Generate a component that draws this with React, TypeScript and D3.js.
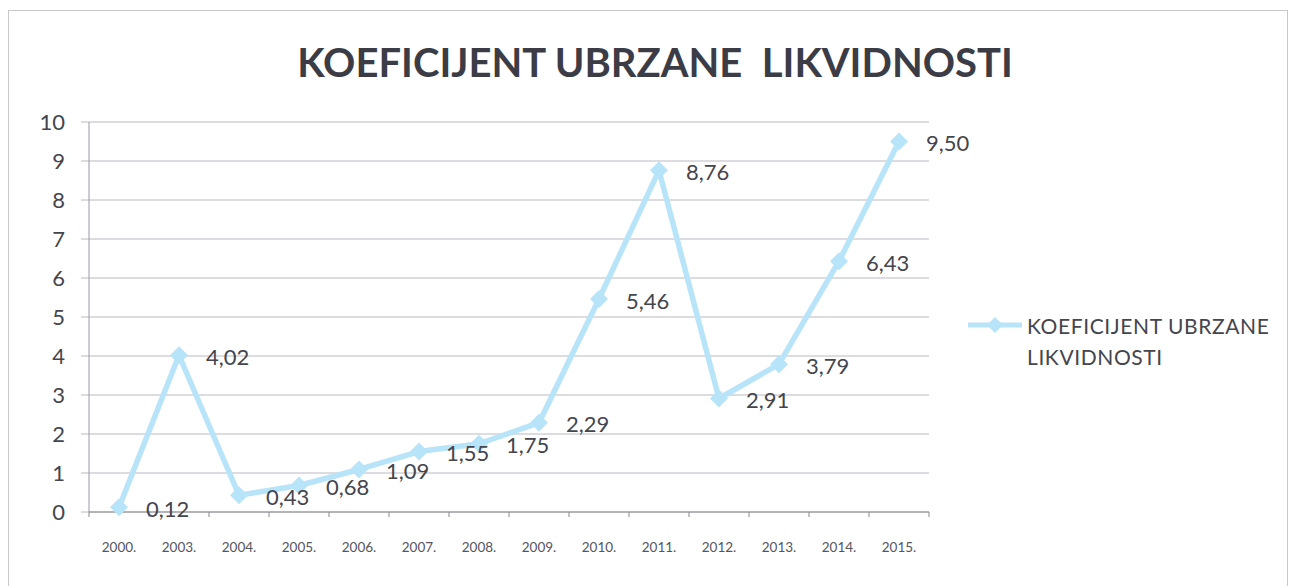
import React from 'react';
import { scaleBand, scaleLinear, line } from 'd3';

const years = ['2000.', '2003.', '2004.', '2005.', '2006.', '2007.', '2008.', '2009.', '2010.', '2011.', '2012.', '2013.', '2014.', '2015.'];
const values = [0.12, 4.02, 0.43, 0.68, 1.09, 1.55, 1.75, 2.29, 5.46, 8.76, 2.91, 3.79, 6.43, 9.5];
const yTicks = [0, 1, 2, 3, 4, 5, 6, 7, 8, 9, 10];
const seriesName = 'KOEFICIJENT UBRZANE LIKVIDNOSTI';

const fmt = (v: number) => v.toFixed(2).replace('.', ',');

export default function App() {
    const width = 1292;
    const height = 586;
    const margin = { top: 122, left: 89, right: 363, bottom: 74 };
    const innerW = width - margin.left - margin.right;
    const innerH = height - margin.top - margin.bottom;

    const x = scaleBand<string>().domain(years).range([0, innerW]);
    const y = scaleLinear().domain([0, 10]).range([innerH, 0]);

    const pts = values.map((v, i) => [x(years[i])! + x.bandwidth() / 2, y(v)] as [number, number]);
    const path = line()(pts) || '';

    const lineColor = '#b8e4f9';
    const font = 'Lato, "Open Sans", sans-serif';
    const diamond = (cx: number, cy: number, r: number) =>
        `M${cx},${cy - r}L${cx + r},${cy}L${cx},${cy + r}L${cx - r},${cy}Z`;

    return (
        <div style={{ position: 'fixed', left: 0, top: 0 }}>
            <svg width={width} height={height} style={{ display: 'block', background: '#fff' }}>
                {/* outer frame */}
                <rect x={8.5} y={10.5} width={1279} height={600} fill="none" stroke="#c8c8cc" strokeWidth={1} />

                {/* title */}
                <text x={655} y={77} textAnchor="middle" fontFamily={font} fontWeight="bold" fontSize={40} fill="#3b3c46" style={{ whiteSpace: 'pre' }}>
                    KOEFICIJENT UBRZANE  LIKVIDNOSTI
                </text>

                <g transform={`translate(${margin.left},${margin.top})`}>
                    {/* grid lines */}
                    {yTicks.map(t => (
                        <line key={t} x1={-8} x2={innerW} y1={y(t)} y2={y(t)} stroke="#b9b9c2" strokeWidth={1} />
                    ))}
                    {/* y axis */}
                    <line x1={0} x2={0} y1={0} y2={innerH} stroke="#9a9aa2" strokeWidth={1} />
                    {/* x axis tick marks */}
                    {years.map(yr => (
                        <line key={yr} x1={x(yr)!} x2={x(yr)!} y1={innerH} y2={innerH + 5} stroke="#8a8a92" />
                    ))}
                    <line x1={innerW} x2={innerW} y1={innerH} y2={innerH + 5} stroke="#8a8a92" />
                    <line x1={0} x2={innerW} y1={innerH} y2={innerH} stroke="#8a8a92" />

                    {/* y labels */}
                    {yTicks.map(t => (
                        <text key={t} x={-24} y={y(t)} dy="0.35em" textAnchor="end" fontFamily={font} fontSize={22} fill="#45454d">
                            {t}
                        </text>
                    ))}
                    {/* x labels */}
                    {years.map(yr => (
                        <text key={yr} x={x(yr)! + x.bandwidth() / 2} y={innerH + 40} textAnchor="middle" fontFamily={font} fontSize={13.5} fill="#55555d">
                            {yr}
                        </text>
                    ))}

                    {/* series */}
                    <path d={path} fill="none" stroke={lineColor} strokeWidth={5.5} strokeLinejoin="round" />
                    {pts.map(([px, py], i) => (
                        <path key={i} d={diamond(px, py, 9)} fill={lineColor} />
                    ))}
                    {pts.map(([px, py], i) => (
                        <text key={i} x={px + 27} y={py + 2} dy="0.35em" fontFamily={font} fontSize={22} fill="#45454d">
                            {fmt(values[i])}
                        </text>
                    ))}
                </g>

                {/* legend */}
                <line x1={968} x2={1022} y1={325} y2={325} stroke={lineColor} strokeWidth={5} />
                <path d={diamond(995, 325, 8)} fill={lineColor} />
                <text x={1027} y={327} dy="0.35em" fontFamily={font} fontSize={21} letterSpacing={0.6} fill="#45454d">
                    KOEFICIJENT UBRZANE
                </text>
                <text x={1027} y={358} dy="0.35em" fontFamily={font} fontSize={21} letterSpacing={0.6} fill="#45454d">
                    LIKVIDNOSTI
                </text>
            </svg>
        </div>
    );
}
